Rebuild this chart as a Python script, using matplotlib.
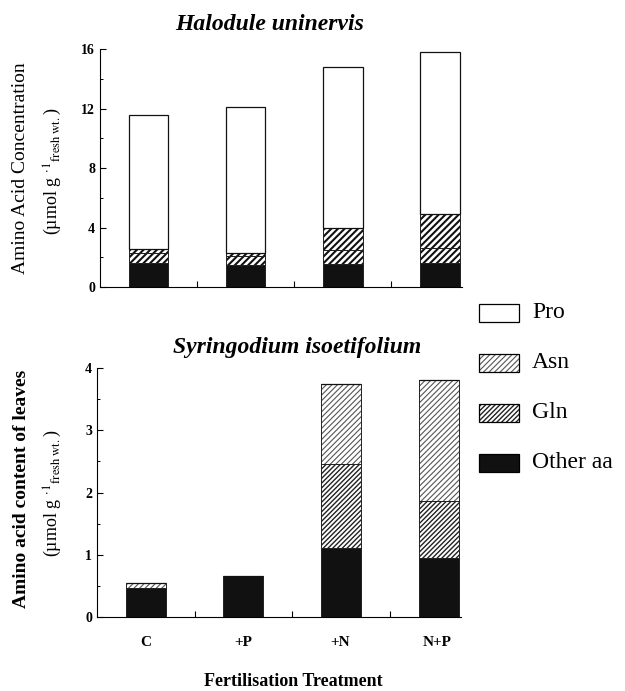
import matplotlib
matplotlib.use("Agg")
import matplotlib.pyplot as plt
import numpy as np
from matplotlib.patches import Rectangle

plt.rcParams['font.family'] = ['Liberation Serif', 'DejaVu Serif']
plt.rcParams['mathtext.fontset'] = 'stix'

treatments = ["C", "+P", "+N", "N+P"]
# Halodule uninervis (umol g-1 fresh wt.)
hal_other = [1.6, 1.5, 1.55, 1.6]
hal_gln = [0.7, 0.6, 0.95, 1.05]
hal_asn = [0.27, 0.2, 1.45, 2.25]
hal_pro = [8.98, 9.8, 10.85, 10.9]
# Syringodium isoetifolium
syr_other = [0.47, 0.66, 1.11, 0.95]
syr_gln = [0.0, 0.0, 1.34, 0.92]
syr_asn = [0.08, 0.0, 1.30, 1.94]
syr_pro = [0.0, 0.0, 0.0, 0.0]

legend_labels = ["Pro", "Asn", "Gln", "Other aa"]

fig = plt.figure(figsize=(6.25, 6.91), dpi=100)
W, H = 625, 691

def axes_px(l, r, t, b):
    return fig.add_axes([l / W, 1 - b / H, (r - l) / W, (b - t) / H])

ax1 = axes_px(100, 462, 49, 287)
ax2 = axes_px(97, 461, 368, 617)

x = np.arange(len(treatments))
bw = 0.41

def stack(ax, other, gln, asn, pro, gln_style, asn_style):
    bottom = np.zeros(len(x))
    ax.bar(x, other, bw, bottom=bottom, color='#111111', edgecolor='#111111', lw=0.6)
    bottom = bottom + np.array(other)
    for vals, (hc, hatch, hlw) in ((gln, gln_style), (asn, asn_style)):
        plt.rcParams['hatch.linewidth'] = hlw
        ax.bar(x, vals, bw, bottom=bottom, color='white', edgecolor=hc, hatch=hatch, lw=0)
        ax.bar(x, vals, bw, bottom=bottom, fill=False, edgecolor='#222222', lw=0.7)
        bottom = bottom + np.array(vals)
    ax.bar(x, pro, bw, bottom=bottom, color='white', edgecolor='#111111', lw=0.9)

stack(ax1, hal_other, hal_gln, hal_asn, hal_pro,
      ('#111111', '/////', 1.5), ('#111111', '/////', 1.5))
stack(ax2, syr_other, syr_gln, syr_asn, syr_pro,
      ('#222222', '///////', 1.0), ('#555555', '//////', 0.8))

for ax in (ax1, ax2):
    ax.set_xlim(-0.5, 3.23)
    for s in ('top', 'right'):
        ax.spines[s].set_visible(False)
    ax.spines['left'].set_linewidth(0.8)
    ax.spines['bottom'].set_linewidth(0.8)
    ax.set_xticks([0.5, 1.5, 2.5])
    ax.set_xticklabels([])
    ax.tick_params(axis='x', direction='in', length=4, width=0.8)
    ax.tick_params(axis='y', direction='in', length=4, width=0.8, labelsize=10)
    ax.tick_params(axis='y', which='minor', direction='in', length=2.5, width=0.7)

ax1.set_ylim(0, 16)
ax1.set_yticks([0, 4, 8, 12, 16])
ax1.set_yticks([2, 6, 10, 14], minor=True)
ax2.set_ylim(0, 4)
ax2.set_yticks([0, 1, 2, 3, 4])
ax2.set_yticks([0.5, 1.5, 2.5, 3.5], minor=True)
for ax in (ax1, ax2):
    for lab in ax.get_yticklabels():
        lab.set_fontweight('bold')

for xi, t in zip(x, treatments):
    fig.text((97 + (xi + 0.5) * 97.3) / W, 1 - 643 / H, t, ha='center', va='center',
             fontsize=11, fontweight='bold')

fig.text(270 / W, 1 - 25 / H, "Halodule uninervis", ha='center', va='center',
         fontsize=17, fontweight='bold', style='italic')
fig.text(297 / W, 1 - 348 / H, "Syringodium isoetifolium", ha='center', va='center',
         fontsize=17, fontweight='bold', style='italic')

unit = "(µmol g $^{\\cdot 1}$$_{\\mathrm{fresh\\ wt.}}$)"
fig.text(21 / W, 1 - 168 / H, "Amino Acid Concentration", rotation=90, ha='center', va='center', fontsize=14)
fig.text(53 / W, 1 - 171 / H, unit, rotation=90, ha='center', va='center', fontsize=13)
fig.text(22 / W, 1 - 489 / H, "Amino acid content of leaves", rotation=90, ha='center', va='center', fontsize=14, fontweight='bold')
fig.text(53 / W, 1 - 493 / H, unit, rotation=90, ha='center', va='center', fontsize=13)

fig.text(293 / W, 1 - 682 / H, "Fertilisation Treatment", ha='center', va='center',
         fontsize=13, fontweight='bold')

# legend
leg_y = [313, 363, 413, 463]
styles = [dict(facecolor='white', hatch=None, hc='black', hlw=1.0),
          dict(facecolor='white', hatch='//////', hc='#555555', hlw=0.8),
          dict(facecolor='white', hatch='///////', hc='#222222', hlw=1.0),
          dict(facecolor='#111111', hatch=None, hc='#111111', hlw=1.0)]
for yy, lab, st in zip(leg_y, legend_labels, styles):
    x0, y0, w, h = 479 / W, 1 - (yy + 9) / H, 40 / W, 18 / H
    if st['hatch']:
        plt.rcParams['hatch.linewidth'] = st['hlw']
        fig.patches.append(Rectangle((x0, y0), w, h, transform=fig.transFigure,
                                     facecolor=st['facecolor'], edgecolor=st['hc'],
                                     hatch=st['hatch'], lw=0))
        fig.patches.append(Rectangle((x0, y0), w, h, transform=fig.transFigure,
                                     fill=False, edgecolor='black', lw=0.9))
    else:
        fig.patches.append(Rectangle((x0, y0), w, h, transform=fig.transFigure,
                                     facecolor=st['facecolor'], edgecolor='black', lw=0.9))
    fig.text(532 / W, 1 - yy / H, lab, ha='left', va='center', fontsize=17)

fig.savefig("out.png", dpi=100)
